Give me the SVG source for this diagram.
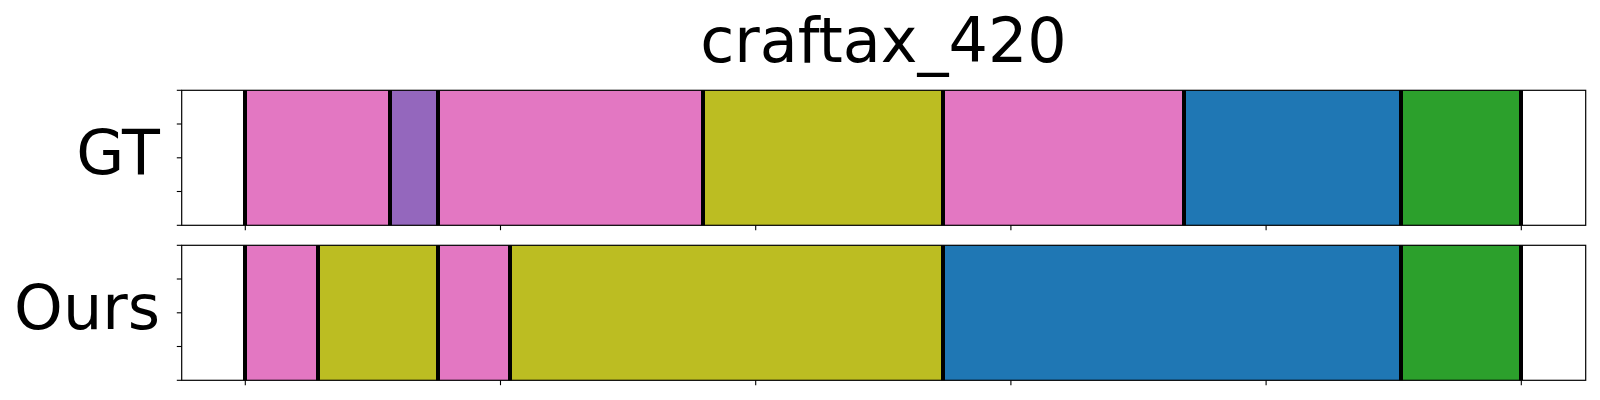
<svg xmlns="http://www.w3.org/2000/svg" width="1600" height="400" viewBox="0 0 1600 400">
<style>
.t{font-family:"DejaVu Sans",sans-serif;font-size:62px;fill:#000}
.pk{fill:#e377c2}.pu{fill:#9467bd}.ol{fill:#bcbd22}.bl{fill:#1f77b4}.gr{fill:#2ca02c}
.sep{stroke:#000;stroke-width:4}
.frame{fill:none;stroke:#000;stroke-width:1.2}
.tick{stroke:#000;stroke-width:1.1}
</style>
<rect width="1600" height="400" fill="#fff"/>
<text id="title" class="t" x="883.5" y="62" text-anchor="middle">craftax_420</text>
<g id="gt-axes">
<text class="t" x="160" y="174.3" text-anchor="end">GT</text>
<rect class="pk" x="245" y="90.3" width="145" height="135"/>
<rect class="pu" x="390" y="90.3" width="48" height="135"/>
<rect class="pk" x="438" y="90.3" width="265" height="135"/>
<rect class="ol" x="703" y="90.3" width="240" height="135"/>
<rect class="pk" x="943" y="90.3" width="241" height="135"/>
<rect class="bl" x="1184" y="90.3" width="217" height="135"/>
<rect class="gr" x="1401" y="90.3" width="120" height="135"/>
<g class="sep">
<line x1="245" y1="90.3" x2="245" y2="225.3"/>
<line x1="390" y1="90.3" x2="390" y2="225.3"/>
<line x1="438" y1="90.3" x2="438" y2="225.3"/>
<line x1="703" y1="90.3" x2="703" y2="225.3"/>
<line x1="943" y1="90.3" x2="943" y2="225.3"/>
<line x1="1184" y1="90.3" x2="1184" y2="225.3"/>
<line x1="1401" y1="90.3" x2="1401" y2="225.3"/>
<line x1="1521" y1="90.3" x2="1521" y2="225.3"/>
</g>
<rect class="frame" x="181.7" y="90.3" width="1404" height="135"/>
<g class="tick">
<line x1="176.8" y1="90.3" x2="181.7" y2="90.3"/>
<line x1="176.8" y1="124" x2="181.7" y2="124"/>
<line x1="176.8" y1="157.8" x2="181.7" y2="157.8"/>
<line x1="176.8" y1="191.5" x2="181.7" y2="191.5"/>
<line x1="176.8" y1="225.3" x2="181.7" y2="225.3"/>
<line x1="245.3" y1="225.3" x2="245.3" y2="230.2"/>
<line x1="500.5" y1="225.3" x2="500.5" y2="230.2"/>
<line x1="755.7" y1="225.3" x2="755.7" y2="230.2"/>
<line x1="1010.9" y1="225.3" x2="1010.9" y2="230.2"/>
<line x1="1266.1" y1="225.3" x2="1266.1" y2="230.2"/>
<line x1="1521.3" y1="225.3" x2="1521.3" y2="230.2"/>
</g>
</g>
<g id="ours-axes">
<text class="t" x="160" y="329.3" text-anchor="end">Ours</text>
<rect class="pk" x="245" y="245.3" width="73" height="135"/>
<rect class="ol" x="318" y="245.3" width="120" height="135"/>
<rect class="pk" x="438" y="245.3" width="72" height="135"/>
<rect class="ol" x="510" y="245.3" width="433" height="135"/>
<rect class="bl" x="943" y="245.3" width="458" height="135"/>
<rect class="gr" x="1401" y="245.3" width="120" height="135"/>
<g class="sep">
<line x1="245" y1="245.3" x2="245" y2="380.3"/>
<line x1="318" y1="245.3" x2="318" y2="380.3"/>
<line x1="438" y1="245.3" x2="438" y2="380.3"/>
<line x1="510" y1="245.3" x2="510" y2="380.3"/>
<line x1="943" y1="245.3" x2="943" y2="380.3"/>
<line x1="1401" y1="245.3" x2="1401" y2="380.3"/>
<line x1="1521" y1="245.3" x2="1521" y2="380.3"/>
</g>
<rect class="frame" x="181.7" y="245.3" width="1404" height="135"/>
<g class="tick">
<line x1="176.8" y1="245.3" x2="181.7" y2="245.3"/>
<line x1="176.8" y1="279" x2="181.7" y2="279"/>
<line x1="176.8" y1="312.8" x2="181.7" y2="312.8"/>
<line x1="176.8" y1="346.5" x2="181.7" y2="346.5"/>
<line x1="176.8" y1="380.3" x2="181.7" y2="380.3"/>
<line x1="245.3" y1="380.3" x2="245.3" y2="385.2"/>
<line x1="500.5" y1="380.3" x2="500.5" y2="385.2"/>
<line x1="755.7" y1="380.3" x2="755.7" y2="385.2"/>
<line x1="1010.9" y1="380.3" x2="1010.9" y2="385.2"/>
<line x1="1266.1" y1="380.3" x2="1266.1" y2="385.2"/>
<line x1="1521.3" y1="380.3" x2="1521.3" y2="385.2"/>
</g>
</g>
</svg>
